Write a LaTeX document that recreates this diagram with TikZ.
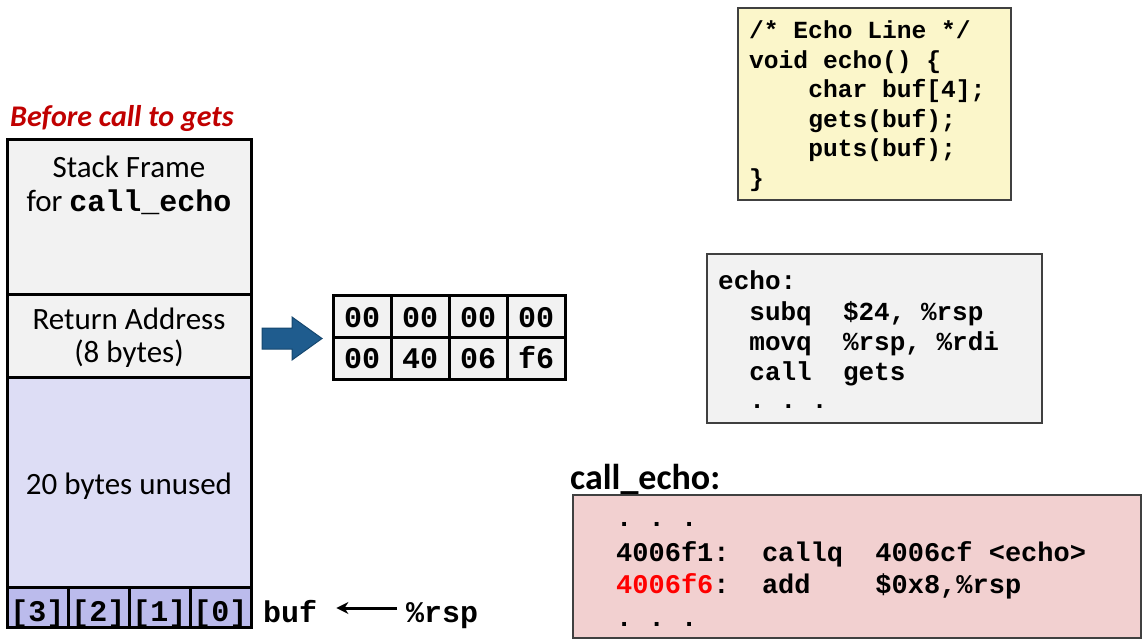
\documentclass[tikz,border=0pt]{standalone}
\usepackage{fontspec}
\setmainfont{Carlito}
\newfontfamily\codefont{Liberation Mono}
\usetikzlibrary{arrows.meta}

\definecolor{framegray}{HTML}{F2F2F2}
\definecolor{unusedblue}{HTML}{DDDDF5}
\definecolor{bufblue}{HTML}{BBBBEC}
\definecolor{srcyellow}{HTML}{FBF6CA}
\definecolor{asmpink}{HTML}{F2D0D0}
\definecolor{boxgray}{HTML}{404040}
\definecolor{titlered}{HTML}{C00000}
\definecolor{arrowblue}{HTML}{1F5C8E}
\definecolor{arrowedge}{HTML}{15476F}

\tikzset{
	stackline/.style={line width=3pt, draw=black},
	codeline/.style={line width=1.3pt, draw=boxgray},
	sidetext/.style={anchor=base, inner sep=0pt, font=\fontsize{31}{36}\selectfont},
	titletext/.style={anchor=base west, inner sep=0pt, text=titlered, font=\bfseries\itshape\fontsize{30}{36}\selectfont},
	headtext/.style={anchor=base west, inner sep=0pt, font=\bfseries\fontsize{36}{42}\selectfont},
	monobig/.style={anchor=base, inner sep=0pt, font=\codefont\bfseries\fontsize{30}{36}\selectfont},
	srcline/.style={anchor=base west, inner sep=0pt, font=\codefont\bfseries\fontsize{24.6}{29}\selectfont},
	asmline/.style={anchor=base west, inner sep=0pt, font=\codefont\bfseries\fontsize{26}{30}\selectfont},
	callline/.style={anchor=base west, inner sep=0pt, font=\codefont\bfseries\fontsize{27}{32}\selectfont},
	ptr/.style={line width=3pt, -{Stealth[length=12pt, width=12pt]}}
}

\begin{document}
\frenchspacing
\begin{tikzpicture}[x=1pt, y=-1pt]
	%%%%% START %%%%%
	\useasboundingbox (0,0) rectangle (1143,644);
	
	% stack before the call to gets
	\node[titletext] (before) at (10,127) {Before call to gets};
	\draw[stackline, fill=framegray] (7,140) rectangle (251,295);
	\draw[stackline, fill=framegray] (7,295) rectangle (251,377);
	\draw[stackline, fill=unusedblue] (7,377) rectangle (251,587);
	\foreach \x/\k in {7/3, 68/2, 129/1, 190/0}{
		\draw[stackline, fill=bufblue] (\x,587) rectangle ++(61,40);
		\node[monobig] (slot\k) at (\x+30.5,621) {[\k]};
	}
	
	\node[sidetext] (frametop) at (129,178) {Stack Frame};
	\node[sidetext] (framefor) at (129,212) {for {\codefont\bfseries\fontsize{30}{36}\selectfont call\_echo}};
	\node[sidetext] (retaddr) at (129,330) {Return Address};
	\node[sidetext] (retsize) at (129,362) {(8 bytes)};
	\node[sidetext] (unused) at (129,494) {20 bytes unused};
	
	\node[monobig, anchor=base west] (bufname) at (263,622) {buf};
	\node[monobig, anchor=base west] (rsp) at (406,622) {\%rsp};
	\draw[ptr] ([xshift=-9pt, yshift=14pt]rsp.base west) -- ([xshift=19pt, yshift=14pt]bufname.base east);
	
	% return address bytes
	\draw[line width=1pt, draw=arrowedge, fill=arrowblue] (262,328) -- (292,328) -- (292,317) -- (322,338.5) -- (292,360) -- (292,349) -- (262,349) -- cycle;
	\foreach \x/\v [count=\i] in {333/00, 391/00, 449/00, 507/00}{
		\draw[stackline, fill=framegray] (\x,296) rectangle ++(58,41);
		\node[monobig] (hibyte\i) at (\x+29,327) {\v};
	}
	\foreach \x/\v [count=\i] in {333/00, 391/40, 449/06, 507/f6}{
		\draw[stackline, fill=framegray] (\x,337) rectangle ++(58,42);
		\node[monobig] (lobyte\i) at (\x+29,368) {\v};
	}
	
	% echo source
	\draw[codeline, fill=srcyellow] (738,8) rectangle (1011,200);
	\node[srcline] (src1) at (749,39) {/* Echo Line */};
	\node[srcline] (src2) at (749,68.5) {void echo() \{};
	\node[srcline] (src3) at (749,98) {~~~~char buf[4];};
	\node[srcline] (src4) at (749,127.5) {~~~~gets(buf);};
	\node[srcline] (src5) at (749,157) {~~~~puts(buf);};
	\node[srcline] (src6) at (749,186.5) {\}};
	
	% echo assembly
	\draw[codeline, fill=framegray] (707,254) rectangle (1042,423);
	\node[asmline] (asm1) at (718,290) {echo:};
	\node[asmline] (asm2) at (718,320) {~~subq~~\$24,~\%rsp};
	\node[asmline] (asm3) at (718,350) {~~movq~~\%rsp,~\%rdi};
	\node[asmline] (asm4) at (718,380) {~~call~~gets};
	\node[asmline] (asm5) at (718,408) {~~.~.~.};
	
	% call_echo assembly
	\draw[codeline, fill=asmpink] (573,495) rectangle (1141,638);
	\node[headtext] (callecho) at (570,489) {call\_echo:};
	\node[callline] (call1) at (616,526) {.~.~.};
	\node[callline] (call2) at (616,561) {4006f1:~~callq~~4006cf~<echo>};
	\node[callline] (call3) at (616,593) {\textcolor{red}{4006f6}:~~add~~~~\$0x8,\%rsp};
	\node[callline] (call4) at (616,626) {.~.~.};
	
	%%%%% END %%%%%
\end{tikzpicture}
\end{document}
